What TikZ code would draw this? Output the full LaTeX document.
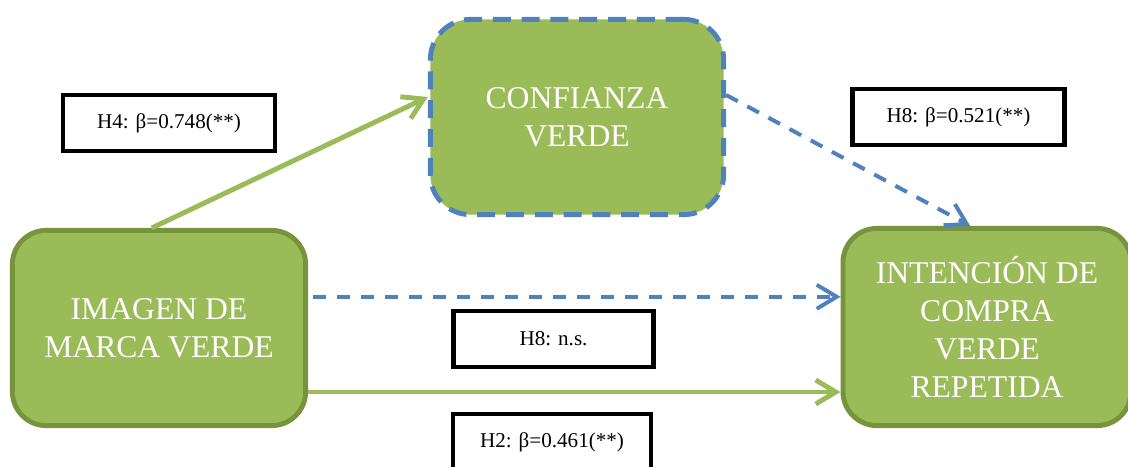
\documentclass[tikz,border=0pt]{standalone}
\usepackage{fontspec}
\setmainfont{Liberation Serif}
\usetikzlibrary{positioning, arrows.meta, calc}
\definecolor{bgGreen}{HTML}{9BBB59}
\definecolor{borderGreen}{HTML}{77933C}
\definecolor{lineBlue}{HTML}{4F81BD}
\tikzset{
  construct/.style={draw=borderGreen, fill=bgGreen, rounded corners=0.85cm,
    minimum width=7.33cm, minimum height=4.88cm, line width=3.5pt,
    font=\fontsize{22.5}{27}\selectfont, text=white, align=center},
  mediator/.style={construct, draw=lineBlue, rounded corners=1cm,
    dash pattern=on 0.45cm off 0.27cm},
  coefbox/.style={draw=black, fill=white, line width=3.4pt,
    minimum width=5.3cm, minimum height=1.4cm,
    font=\fontsize{15}{18}\selectfont, text=black, align=center},
  sigarrow/.style={-{Straight Barb[length=0.5cm, width=0.6cm]}, line width=3.5pt, color=bgGreen},
  nsarrow/.style={-{Straight Barb[length=0.5cm, width=0.6cm]}, line width=2.8pt, color=lineBlue,
    dash pattern=on 0.33cm off 0.27cm},
}

\begin{document}
\begin{tikzpicture}[x=0.025cm, y=-0.025cm]
  \useasboundingbox (0,0) rectangle (1128,466);

  % === Constructs ===
  \node[construct] (imagen) at (159,328) {IMAGEN DE\\MARCA VERDE};
  \node[mediator] (confianza) at (577,117) {CONFIANZA\\VERDE};
  \node[construct, minimum width=7.2cm, minimum height=4.93cm] (intencion) at (987,327)
    {INTENCIÓN DE\\COMPRA\\VERDE\\REPETIDA};

  % === Coefficient boxes ===
  \node[coefbox] (h4) at (169,123) {H4: β=0.748(**)};
  \node[coefbox] (h8a) at (958.5,117) {H8: β=0.521(**)};
  \node[coefbox, minimum width=4.98cm] (h8b) at (553.5,339) {H8: n.s.};
  \node[coefbox, minimum width=4.95cm] (h2) at (552,442) {H2: β=0.461(**)};

  % === Paths ===
  \coordinate (h4start) at ($(imagen.north west)!0.476!(imagen.north east)$);
  \draw[sigarrow] (h4start) -- ([yshift=0.5cm]confianza.west);
  \draw[nsarrow] ([yshift=0.55cm]confianza.east) -- ([xshift=-0.42cm]intencion.north);

  \coordinate (nsstart) at ([xshift=0.12cm, yshift=0.78cm]imagen.east);
  \draw[nsarrow] (nsstart) -- (nsstart -| intencion.west);

  \coordinate (h2start) at ([yshift=-1.6cm]imagen.east);
  \draw[sigarrow] (h2start) -- (h2start -| intencion.west);

\end{tikzpicture}
\end{document}
